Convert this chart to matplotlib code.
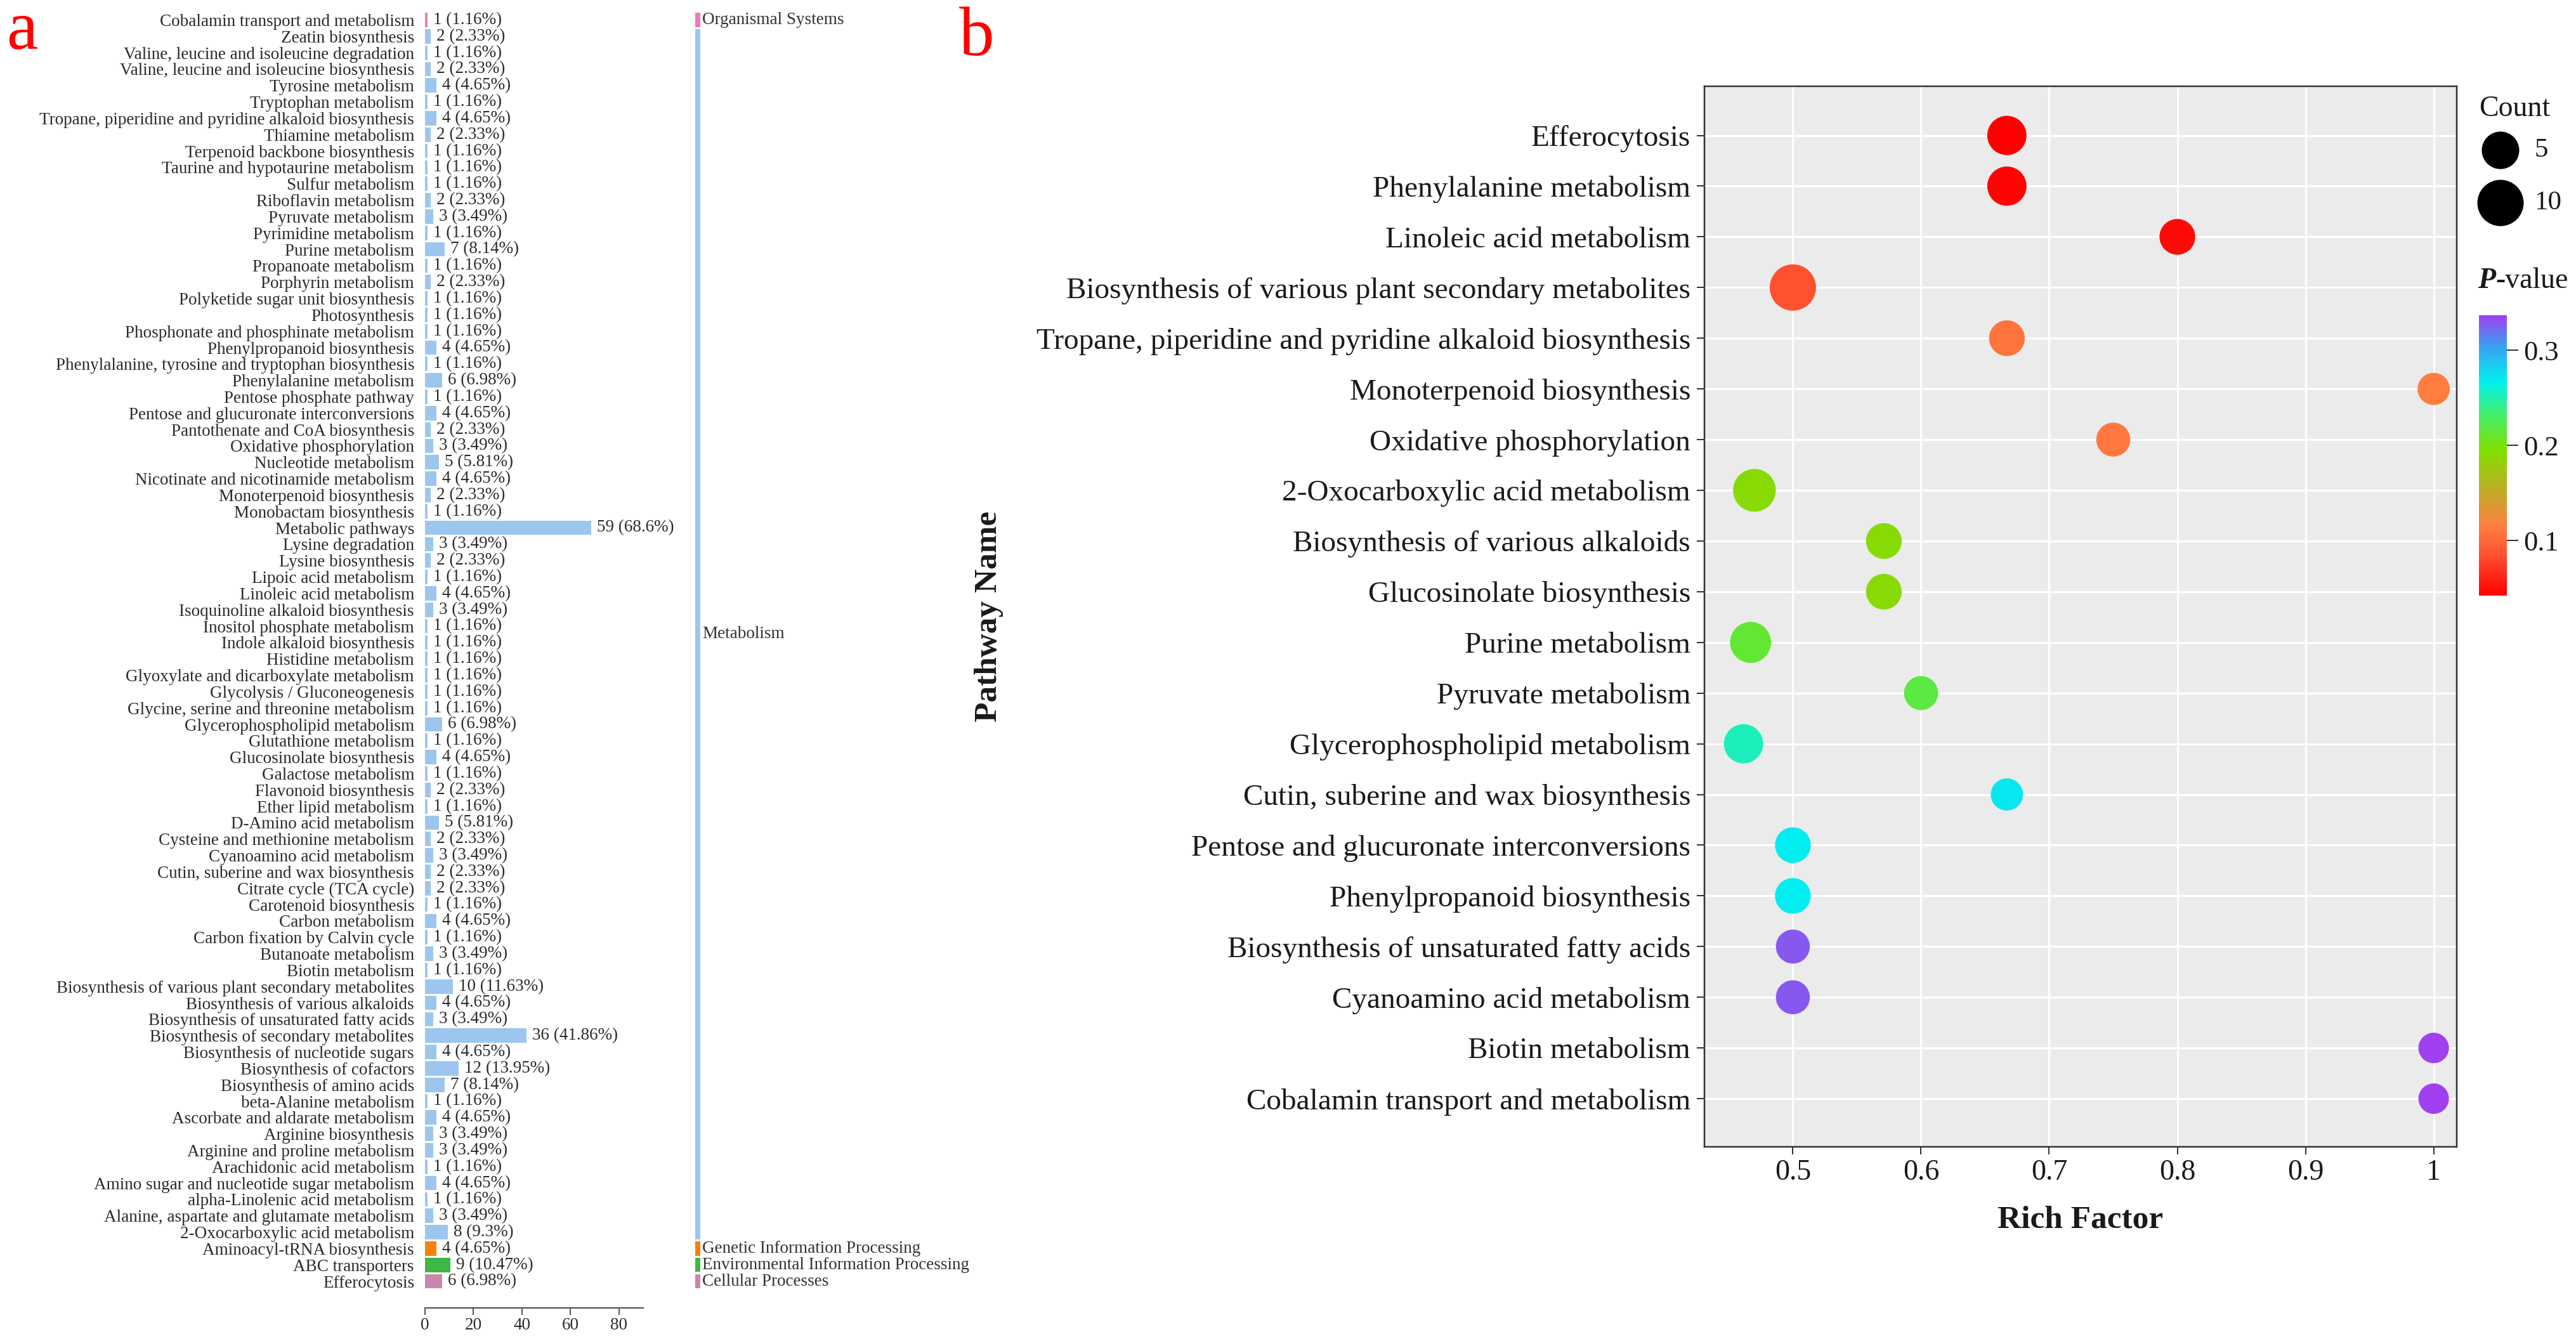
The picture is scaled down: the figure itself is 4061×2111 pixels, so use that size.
import numpy as np
import matplotlib
matplotlib.use("Agg")
import matplotlib.pyplot as plt
from matplotlib.colors import LinearSegmentedColormap, Normalize
from matplotlib.cm import ScalarMappable

W, H, DPI = 4061, 2111, 100
PX = 72.0 / DPI  # points per pixel
plt.rcParams['font.family'] = ['Liberation Serif', 'DejaVu Serif']

# ---------------- Panel a data ----------------
names_a = [
    "Cobalamin transport and metabolism", "Zeatin biosynthesis",
    "Valine, leucine and isoleucine degradation", "Valine, leucine and isoleucine biosynthesis",
    "Tyrosine metabolism", "Tryptophan metabolism",
    "Tropane, piperidine and pyridine alkaloid biosynthesis", "Thiamine metabolism",
    "Terpenoid backbone biosynthesis", "Taurine and hypotaurine metabolism",
    "Sulfur metabolism", "Riboflavin metabolism", "Pyruvate metabolism",
    "Pyrimidine metabolism", "Purine metabolism", "Propanoate metabolism",
    "Porphyrin metabolism", "Polyketide sugar unit biosynthesis", "Photosynthesis",
    "Phosphonate and phosphinate metabolism", "Phenylpropanoid biosynthesis",
    "Phenylalanine, tyrosine and tryptophan biosynthesis", "Phenylalanine metabolism",
    "Pentose phosphate pathway", "Pentose and glucuronate interconversions",
    "Pantothenate and CoA biosynthesis", "Oxidative phosphorylation",
    "Nucleotide metabolism", "Nicotinate and nicotinamide metabolism",
    "Monoterpenoid biosynthesis", "Monobactam biosynthesis", "Metabolic pathways",
    "Lysine degradation", "Lysine biosynthesis", "Lipoic acid metabolism",
    "Linoleic acid metabolism", "Isoquinoline alkaloid biosynthesis",
    "Inositol phosphate metabolism", "Indole alkaloid biosynthesis",
    "Histidine metabolism", "Glyoxylate and dicarboxylate metabolism",
    "Glycolysis / Gluconeogenesis", "Glycine, serine and threonine metabolism",
    "Glycerophospholipid metabolism", "Glutathione metabolism",
    "Glucosinolate biosynthesis", "Galactose metabolism", "Flavonoid biosynthesis",
    "Ether lipid metabolism", "D-Amino acid metabolism",
    "Cysteine and methionine metabolism", "Cyanoamino acid metabolism",
    "Cutin, suberine and wax biosynthesis", "Citrate cycle (TCA cycle)",
    "Carotenoid biosynthesis", "Carbon metabolism", "Carbon fixation by Calvin cycle",
    "Butanoate metabolism", "Biotin metabolism",
    "Biosynthesis of various plant secondary metabolites",
    "Biosynthesis of various alkaloids", "Biosynthesis of unsaturated fatty acids",
    "Biosynthesis of secondary metabolites", "Biosynthesis of nucleotide sugars",
    "Biosynthesis of cofactors", "Biosynthesis of amino acids",
    "beta-Alanine metabolism", "Ascorbate and aldarate metabolism",
    "Arginine biosynthesis", "Arginine and proline metabolism",
    "Arachidonic acid metabolism", "Amino sugar and nucleotide sugar metabolism",
    "alpha-Linolenic acid metabolism", "Alanine, aspartate and glutamate metabolism",
    "2-Oxocarboxylic acid metabolism", "Aminoacyl-tRNA biosynthesis",
    "ABC transporters", "Efferocytosis",
]
counts_a = [1, 2, 1, 2, 4, 1, 4, 2, 1, 1,
            1, 2, 3, 1, 7, 1, 2, 1, 1, 1,
            4, 1, 6, 1, 4, 2, 3, 5, 4, 2,
            1, 59, 3, 2, 1, 4, 3, 1, 1, 1,
            1, 1, 1, 6, 1, 4, 1, 2, 1, 5,
            2, 3, 2, 2, 1, 4, 1, 3, 1, 10,
            4, 3, 36, 4, 12, 7, 1, 4, 3, 3,
            1, 4, 1, 3, 8, 4, 9, 6]
pct_a = [1.16, 2.33, 1.16, 2.33, 4.65, 1.16, 4.65, 2.33, 1.16, 1.16,
         1.16, 2.33, 3.49, 1.16, 8.14, 1.16, 2.33, 1.16, 1.16, 1.16,
         4.65, 1.16, 6.98, 1.16, 4.65, 2.33, 3.49, 5.81, 4.65, 2.33,
         1.16, 68.6, 3.49, 2.33, 1.16, 4.65, 3.49, 1.16, 1.16, 1.16,
         1.16, 1.16, 1.16, 6.98, 1.16, 4.65, 1.16, 2.33, 1.16, 5.81,
         2.33, 3.49, 2.33, 2.33, 1.16, 4.65, 1.16, 3.49, 1.16, 11.63,
         4.65, 3.49, 41.86, 4.65, 13.95, 8.14, 1.16, 4.65, 3.49, 3.49,
         1.16, 4.65, 1.16, 3.49, 9.3, 4.65, 10.47, 6.98]
class_a = (["Organismal Systems"] + ["Metabolism"] * 74 +
           ["Genetic Information Processing", "Environmental Information Processing",
            "Cellular Processes"])
class_colors = {
    "Organismal Systems": "#F07AB4",
    "Metabolism": "#9DC6EE",
    "Genetic Information Processing": "#F5820F",
    "Environmental Information Processing": "#3DB843",
    "Cellular Processes": "#C887AC",
}
ticks_a = [0, 20, 40, 60, 80]

# ---------------- Panel b data ----------------
names_b = [
    "Efferocytosis", "Phenylalanine metabolism", "Linoleic acid metabolism",
    "Biosynthesis of various plant secondary metabolites",
    "Tropane, piperidine and pyridine alkaloid biosynthesis",
    "Monoterpenoid biosynthesis", "Oxidative phosphorylation",
    "2-Oxocarboxylic acid metabolism", "Biosynthesis of various alkaloids",
    "Glucosinolate biosynthesis", "Purine metabolism", "Pyruvate metabolism",
    "Glycerophospholipid metabolism", "Cutin, suberine and wax biosynthesis",
    "Pentose and glucuronate interconversions", "Phenylpropanoid biosynthesis",
    "Biosynthesis of unsaturated fatty acids", "Cyanoamino acid metabolism",
    "Biotin metabolism", "Cobalamin transport and metabolism",
]
rich_b = [0.667, 0.667, 0.8, 0.5, 0.667, 1.0, 0.75, 0.47, 0.571, 0.571,
          0.467, 0.6, 0.4615, 0.667, 0.5, 0.5, 0.5, 0.5, 1.0, 1.0]
count_b = [6, 6, 4, 10, 4, 2, 3, 8, 4, 4, 7, 3, 6, 2, 4, 4, 3, 3, 1, 1]
pval_b = [0.042, 0.045, 0.048, 0.085, 0.108, 0.114, 0.112, 0.19, 0.19, 0.19,
          0.213, 0.218, 0.254, 0.272, 0.268, 0.268, 0.328, 0.328, 0.337, 0.337]
ticks_b = [0.5, 0.6, 0.7, 0.8, 0.9, 1.0]
ticklabels_b = ["0.5", "0.6", "0.7", "0.8", "0.9", "1"]
legend_counts = [5, 10]
cbar_ticks = [0.1, 0.2, 0.3]


def fbox(x0, y0, x1, y1):
    return [x0 / W, 1 - y1 / H, (x1 - x0) / W, (y1 - y0) / H]


fig = plt.figure(figsize=(W / DPI, H / DPI), dpi=DPI)
TXT_A = '#2b2b2b'
FS_A = 19.5

# ================= Panel a =================
axa = fig.add_axes(fbox(670, 18.6, 1014, 2033))
n = len(names_a)
ypos = np.arange(n)
axa.barh(ypos, pct_a, height=0.88, color=[class_colors[c] for c in class_a], linewidth=0)
axa.set_xlim(0, 90)
axa.set_ylim(n - 0.5, -0.5)
axa.set_yticks(ypos)
axa.set_yticklabels(names_a, fontsize=FS_A, color=TXT_A)
axa.tick_params(axis='y', length=0, pad=17 * PX)
for sp in ['left', 'right', 'top']:
    axa.spines[sp].set_visible(False)
axa.spines['bottom'].set_position(('outward', 29 * PX))
axa.spines['bottom'].set_color('#555555')
axa.spines['bottom'].set_linewidth(2.2 * PX)
axa.set_xticks(ticks_a)
axa.set_xticklabels([str(t) for t in ticks_a])
axa.tick_params(axis='x', length=11 * PX, width=2 * PX, color='#555555',
                labelsize=FS_A, labelcolor=TXT_A, pad=4 * PX)
axa.patch.set_visible(False)
for i, (c, p) in enumerate(zip(counts_a, pct_a)):
    axa.annotate(f"{c} ({p:g}%)", xy=(p, i), xytext=(9 * PX, 0),
                 textcoords='offset points', va='center', ha='left',
                 fontsize=FS_A, color=TXT_A, annotation_clip=False)

# category stripes
axs = fig.add_axes(fbox(1096, 18.6, 1104, 2033))
axs.set_xlim(0, 1)
axs.set_ylim(n - 0.5, -0.5)
axs.axis('off')
groups = []
start = 0
for i in range(1, n + 1):
    if i == n or class_a[i] != class_a[start]:
        groups.append((class_a[start], start, i - 1))
        start = i
for name, s, e in groups:
    gap = 0.07
    axs.bar(0.5, (e - s + 1) - 2 * gap, bottom=s - 0.5 + gap, width=1.0,
            color=class_colors[name], linewidth=0)
    axs.annotate(name, xy=(1, (s + e) / 2), xycoords=('axes fraction', 'data'),
                 xytext=(3 * PX, 0), textcoords='offset points', va='center',
                 ha='left', fontsize=FS_A, color='#333333', annotation_clip=False)

fig.text(10 / W, 1 - 77 / H, 'a', color='red', fontsize=80, va='baseline', ha='left')
fig.text(1512 / W, 1 - 87 / H, 'b', color='red', fontsize=80, va='baseline', ha='left')

# ================= Panel b =================
stops = [(0.0, '#FF0000'), (0.143, '#FF5030'), (0.25, '#FF8040'), (0.34, '#D0A030'),
         (0.52, '#80E000'), (0.65, '#40F070'), (0.766, '#00F0F0'), (0.896, '#3C9CF0'),
         (1.0, '#A040F0')]
cmap = LinearSegmentedColormap.from_list('pv', stops)
norm = Normalize(vmin=min(pval_b), vmax=max(pval_b))

D_MIN, D_MAX = 48.0, 73.0


def dot_area(c):
    c = np.asarray(c, dtype=float)
    d = D_MIN + (D_MAX - D_MIN) * (c - min(count_b)) / (max(count_b) - min(count_b))
    return (d * PX) ** 2


axb = fig.add_axes(fbox(2687, 136, 3873, 1808))
axb.set_facecolor('#EBEBEB')
nb = len(names_b)
yb = np.arange(nb)
axb.set_xlim(0.431, 1.018)
axb.set_ylim(nb - 1 + 0.95, -0.97)
axb.set_yticks(yb)
axb.set_yticklabels(names_b)
axb.set_xticks(ticks_b)
axb.set_xticklabels(ticklabels_b)
axb.grid(True, color='white', linewidth=3 * PX)
axb.set_axisbelow(True)
axb.scatter(rich_b, yb, s=dot_area(count_b), c=pval_b, cmap=cmap, norm=norm,
            linewidths=0, zorder=3)
for sp in axb.spines.values():
    sp.set_color('#333333')
    sp.set_linewidth(2.5 * PX)
axb.tick_params(axis='both', length=12 * PX, width=2 * PX, color='#333333',
                labelsize=33, labelcolor='#1a1a1a')
axb.tick_params(axis='y', labelsize=34, pad=10 * PX)
axb.tick_params(axis='x', pad=8 * PX)

fig.text(3280 / W, 1 - 1924 / H, 'Rich Factor', fontsize=37, fontweight='bold',
         ha='center', va='center', color='#1a1a1a')
fig.text(1559 / W, 1 - 972 / H, 'Pathway Name', fontsize=37, fontweight='bold',
         ha='center', va='center', rotation=90, color='#1a1a1a')

# size legend
fig.text(3908 / W, 1 - 172 / H, 'Count', fontsize=33, ha='left', va='center', color='#1a1a1a')
axl = fig.add_axes(fbox(3895, 195, 4061, 365))
axl.set_xlim(3895, 4061)
axl.set_ylim(365, 195)
axl.axis('off')
leg_y = [237, 320]
axl.scatter([3942] * len(legend_counts), leg_y, s=dot_area(legend_counts),
            color='black', linewidths=0)
for yy, c in zip(leg_y, legend_counts):
    axl.text(3995, yy, str(c), fontsize=31, ha='left', va='center', color='#1a1a1a')

# p-value colorbar
ptxt = fig.text(3906 / W, 1 - 443 / H, 'P', fontsize=33, fontweight='bold',
                style='italic', ha='left', va='center', color='#1a1a1a')
ann = plt.annotate('-value', xy=(1, 0), xycoords=ptxt, va='bottom', ha='left',
                   fontsize=33, color='#1a1a1a')
cax = fig.add_axes(fbox(3908, 497, 3952, 939))
cb = fig.colorbar(ScalarMappable(norm=norm, cmap=cmap), cax=cax)
cb.outline.set_visible(False)
cb.set_ticks(cbar_ticks)
cb.set_ticklabels([f"{t:g}" for t in cbar_ticks])
cax.tick_params(length=18 * PX, width=2 * PX, color='#333333', labelsize=32,
                labelcolor='#1a1a1a', pad=8 * PX)

fig.savefig('out.png', dpi=DPI)
